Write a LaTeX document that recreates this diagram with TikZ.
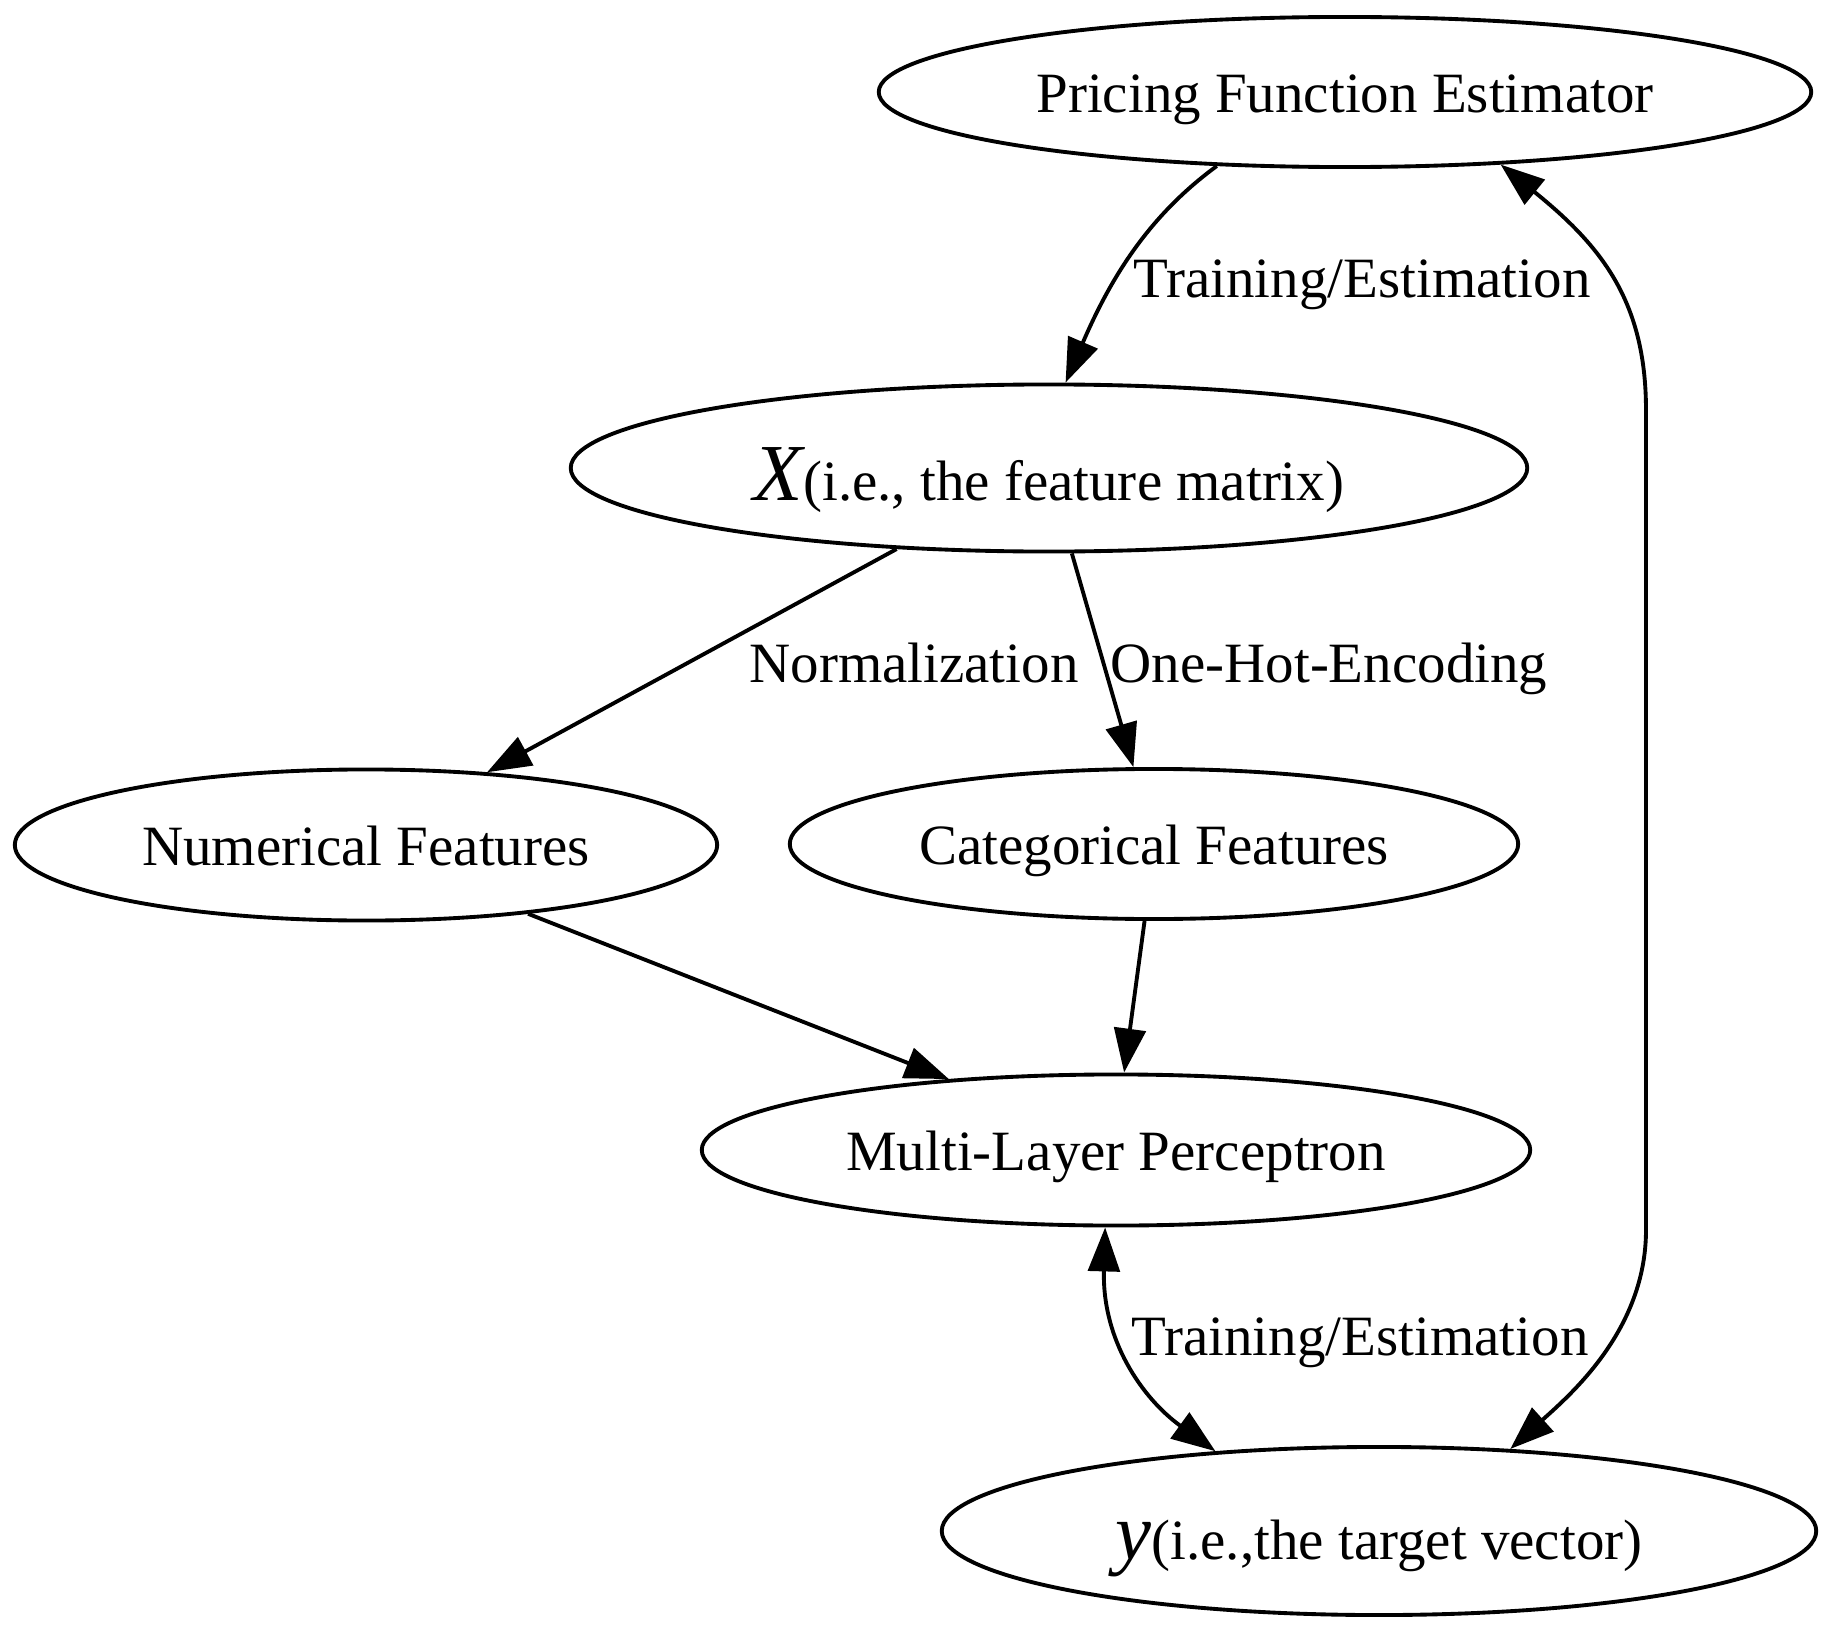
\documentclass[tikz,border=0pt]{standalone}
\usepackage{fontspec}
\setmainfont{Liberation Serif}
\usetikzlibrary{shapes.geometric,arrows.meta}

\begin{document}
\begin{tikzpicture}[x=0.01cm, y=-0.01cm,
    >={Triangle[length=12.5pt, width=9pt]},
    every node/.style={font=\fontsize{16.2}{19}\selectfont},
    blob/.style={ellipse, draw, line width=1.1pt, inner sep=0pt, text height=12.6pt, text depth=1.2pt},
    link/.style={line width=1.1pt, ->},
    note/.style={anchor=base}]
    \useasboundingbox (0,0) rectangle (1832,1627);

    % Add the estimator at the top
    \node[blob, minimum width=9.32cm, minimum height=1.5cm] (pfe) at (1345,92) {Pricing Function Estimator};
    % Add the feature matrix X
    \node[blob, minimum width=9.56cm, minimum height=1.67cm, text height=19.4pt] (featx) at (1049,468)
        {{\fontsize{23}{26}\selectfont\itshape X}(i.e., the feature matrix)};
    % Add the two kinds of features
    \node[blob, minimum width=7.02cm, minimum height=1.51cm] (numf) at (366,845) {Numerical Features};
    \node[blob, minimum width=7.28cm, minimum height=1.5cm] (catf) at (1154,844) {Categorical Features};
    % Add the network
    \node[blob, minimum width=8.28cm, minimum height=1.51cm] (mlp) at (1116,1150) {Multi-Layer Perceptron};
    % Add the target vector y
    \node[blob, minimum width=8.74cm, minimum height=1.68cm, text height=17.2pt] (ytarget) at (1379,1531)
        {{\fontsize{23}{26}\selectfont\itshape y}(i.e.,the target vector)};

    % Add the training from the estimator down to X
    \draw[link] (pfe.210) .. controls (1150,215) and (1112,275) .. (featx.79);
    \node[note] (lbltop) at (1362,297) {Training/Estimation};
    % Add the long link between the estimator and y
    \draw[link, <->] (pfe.-25) .. controls (1600,245) and (1646,300) .. (1646,410)
        -- (1646,1230) .. controls (1646,1330) and (1570,1395) .. (ytarget.32);

    % Add the preprocessing of X
    \draw[link] (featx.208) -- (numf.31);
    \node[note] (lblnorm) at (914,682) {Normalization};
    \draw[link] (featx.285) -- (catf.105);
    \node[note] (lblohe) at (1329,682) {One-Hot-Encoding};

    % Add the inputs of the network
    \draw[link] (numf.-23) -- (mlp.157);
    \draw[link] (catf.263) -- (mlp.84);

    % Add the training between the network and y
    \draw[link, <->] (mlp.262) .. controls (1102,1340) and (1142,1398) .. (ytarget.154);
    \node[note] (lblbot) at (1360,1355) {Training/Estimation};
\end{tikzpicture}
\end{document}
